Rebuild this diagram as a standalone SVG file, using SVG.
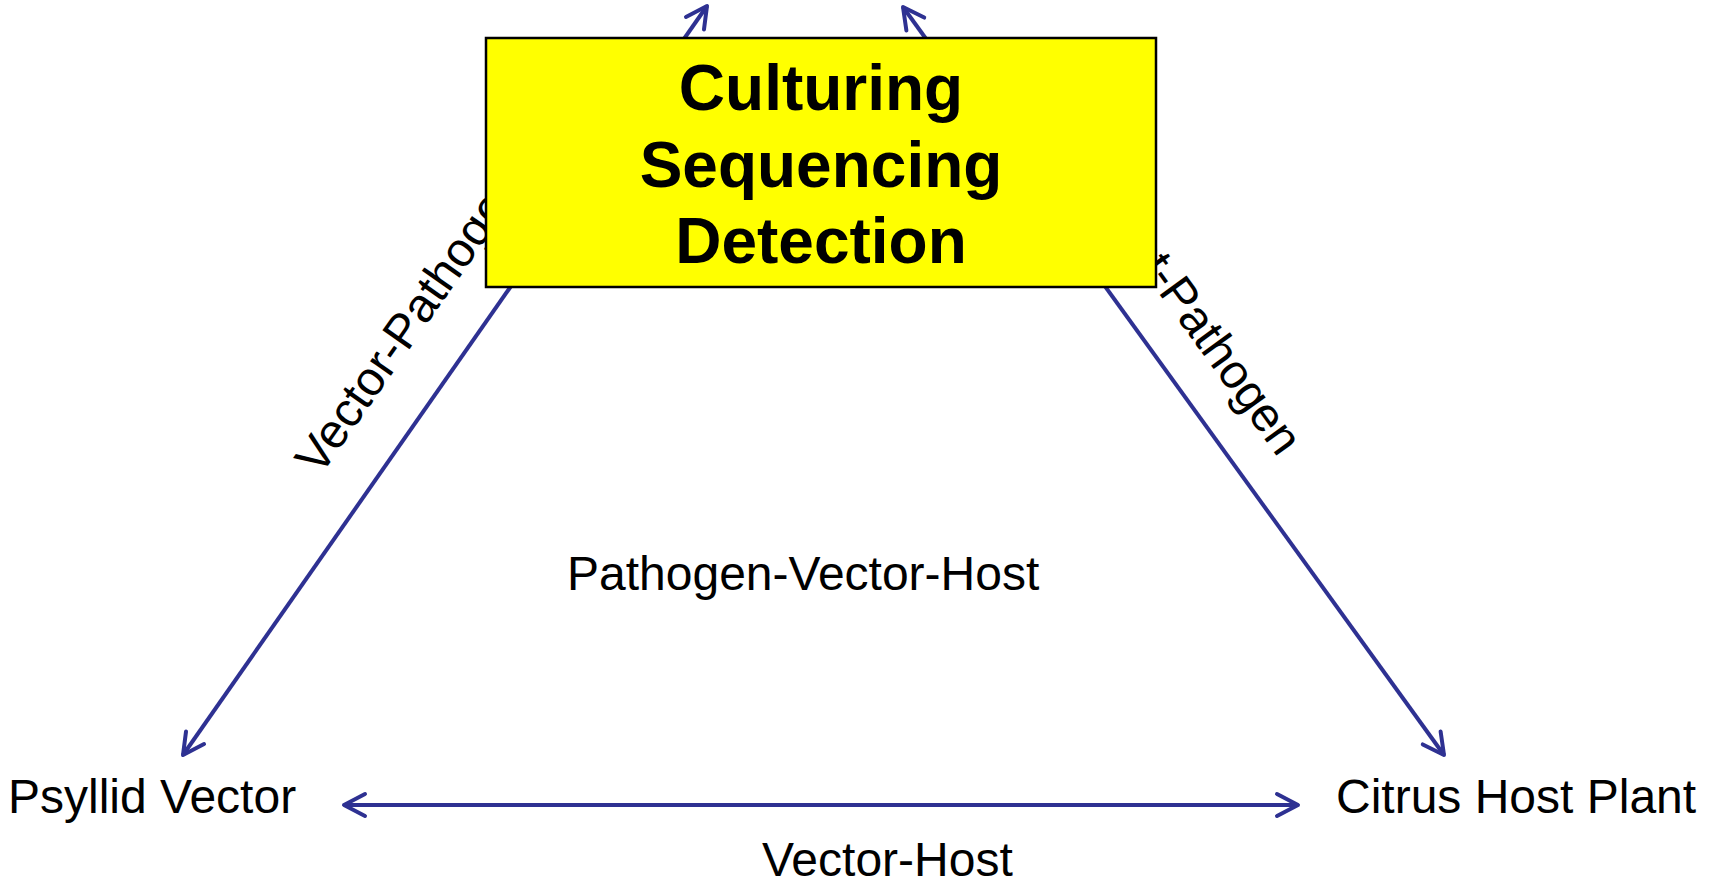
<svg xmlns="http://www.w3.org/2000/svg" width="1723" height="881" viewBox="0 0 1723 881">
<style>
.lbl{font-family:"Liberation Sans",Arial,sans-serif;font-size:48px;fill:#000}
.big{font-family:"Liberation Sans",Arial,sans-serif;font-size:64px;font-weight:bold;fill:#000;text-anchor:middle}
.conn{stroke:#2E3192;fill:none;stroke-width:4}
</style>
<defs>
<marker id="arr" markerUnits="userSpaceOnUse" viewBox="-26 -16 30 32" markerWidth="30" markerHeight="32" refX="0" refY="0" orient="auto-start-reverse">
<path d="M-21,-11 L0,0 L-21,11" fill="none" stroke="#2E3192" stroke-width="4" stroke-linecap="round" stroke-linejoin="round"/>
</marker>
</defs>
<rect width="1723" height="881" fill="#fff"/>
<g id="connectors">
<line class="conn" x1="707" y1="6" x2="183" y2="755" marker-start="url(#arr)" marker-end="url(#arr)"/>
<line class="conn" x1="903" y1="7" x2="1444" y2="755" marker-start="url(#arr)" marker-end="url(#arr)"/>
<line class="conn" x1="344" y1="805" x2="1298" y2="805" marker-start="url(#arr)" marker-end="url(#arr)"/>
</g>
<g id="edge-labels">
<text class="lbl" transform="translate(320,477) rotate(-55)">Vector-Pathogen</text>
<text class="lbl" transform="translate(1090,199) rotate(54)">Host-Pathogen</text>
<text class="lbl" x="762" y="876">Vector-Host</text>
</g>
<g id="center-label">
<text class="lbl" x="567" y="590">Pathogen-Vector-Host</text>
</g>
<g id="node-psyllid">
<text class="lbl" x="8" y="813">Psyllid Vector</text>
</g>
<g id="node-citrus">
<text class="lbl" x="1336" y="813">Citrus Host Plant</text>
</g>
<g id="node-box">
<rect x="486" y="38" width="670" height="249" fill="#FFFF00" stroke="#000" stroke-width="2.5"/>
<text class="big" x="821" y="110">Culturing</text>
<text class="big" x="821" y="187">Sequencing</text>
<text class="big" x="821" y="263">Detection</text>
</g>
</svg>
